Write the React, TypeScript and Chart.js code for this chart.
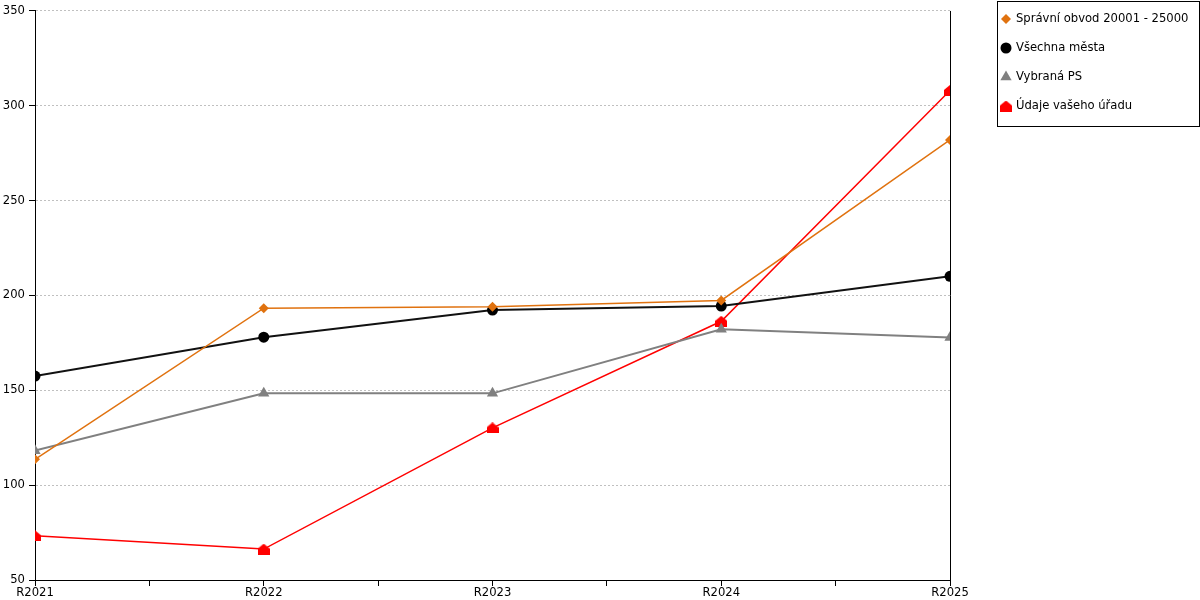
import React, { useEffect, useRef } from "react";
import { Chart, registerables } from "chart.js";

Chart.register(...registerables);

const categories = ["R2021", "R2022", "R2023", "R2024", "R2025"];
const seriesLabels = [
  "Správní obvod 20001 - 25000",
  "Všechna města",
  "Vybraná PS",
  "Údaje vašeho úřadu",
];
const spravniObvod = [113.6, 193.3, 194.0, 197.4, 282.0];
const vsechnaMesta = [157.5, 178.0, 192.3, 194.4, 210.1];
const vybranaPS = [118.2, 148.4, 148.4, 182.2, 177.8];
const udajeUradu = [73.3, 66.3, 130.2, 186.4, 308.1];
const yTicks = [50, 100, 150, 200, 250, 300, 350];

const FONT = "'DejaVu Sans', Verdana, sans-serif";
const FONT_SIZE = 11.6;

function makeHouse(color: string): HTMLCanvasElement {
  const c = document.createElement("canvas");
  c.width = 12;
  c.height = 11;
  const g = c.getContext("2d")!;
  g.fillStyle = color;
  g.beginPath();
  g.moveTo(0, 5);
  g.lineTo(6, 0);
  g.lineTo(12, 5);
  g.lineTo(12, 11);
  g.lineTo(0, 11);
  g.closePath();
  g.fill();
  return c;
}

function drawMarker(ctx: CanvasRenderingContext2D, style: any, r: number, x: number, y: number, color: string) {
  ctx.save();
  ctx.fillStyle = color;
  ctx.beginPath();
  if (style instanceof HTMLCanvasElement) {
    ctx.drawImage(style, x - style.width / 2, y - style.height / 2);
    ctx.restore();
    return;
  }
  if (style === "rectRot") {
    ctx.moveTo(x, y - r);
    ctx.lineTo(x + r, y);
    ctx.lineTo(x, y + r);
    ctx.lineTo(x - r, y);
  } else if (style === "circle") {
    ctx.arc(x, y, r, 0, Math.PI * 2);
  } else if (style === "triangle") {
    const w = r * Math.sqrt(3) / 2;
    ctx.moveTo(x, y - r);
    ctx.lineTo(x + w, y + r / 2);
    ctx.lineTo(x - w, y + r / 2);
  }
  ctx.closePath();
  ctx.fill();
  ctx.restore();
}

const frameAndLegend = {
  id: "frameAndLegend",
  afterDraw(chart: any) {
    const { ctx, chartArea } = chart;
    ctx.save();
    ctx.strokeStyle = "#000";
    ctx.lineWidth = 1;
    ctx.beginPath();
    ctx.moveTo(Math.round(chartArea.right) + 0.5, chartArea.top);
    ctx.lineTo(Math.round(chartArea.right) + 0.5, chartArea.bottom);
    ctx.stroke();

    const left = Math.round(chartArea.right) + 47;
    const top = 1;
    const width = chart.width - left - 1;
    const itemGap = 29;
    const height = 125;
    ctx.strokeRect(left + 0.5, top + 0.5, width, height);
    ctx.font = `${FONT_SIZE}px ${FONT}`;
    ctx.textBaseline = "middle";
    ctx.textAlign = "left";
    chart.data.datasets.forEach((ds: any, i: number) => {
      const cy = top + 18 + i * itemGap;
      drawMarker(ctx, ds.pointStyle, ds.pointRadius, left + 9, cy, ds.pointBackgroundColor);
      ctx.fillStyle = "#000";
      ctx.fillText(ds.label, left + 19, cy);
    });
    ctx.restore();
  },
};

export default function App() {
  const ref = useRef<HTMLCanvasElement | null>(null);

  useEffect(() => {
    if (!ref.current) return;
    const toPts = (vals: number[]) => vals.map((v, i) => ({ x: i, y: v }));
    const house = makeHouse("#FF0000");
    const chart = new Chart(ref.current, {
      type: "line",
      data: {
        datasets: [
          {
            label: seriesLabels[0],
            data: toPts(spravniObvod),
            borderColor: "#E0720F",
            backgroundColor: "#E0720F",
            pointBackgroundColor: "#E0720F",
            pointBorderWidth: 0,
            borderWidth: 1.5,
            pointStyle: "rectRot",
            pointRadius: 5,
          },
          {
            label: seriesLabels[1],
            data: toPts(vsechnaMesta),
            borderColor: "#111111",
            backgroundColor: "#000000",
            pointBackgroundColor: "#000000",
            pointBorderWidth: 0,
            borderWidth: 2,
            pointStyle: "circle",
            pointRadius: 5.5,
          },
          {
            label: seriesLabels[2],
            data: toPts(vybranaPS),
            borderColor: "#808080",
            backgroundColor: "#808080",
            pointBackgroundColor: "#808080",
            pointBorderWidth: 0,
            borderWidth: 2,
            pointStyle: "triangle",
            pointRadius: 6.5,
          },
          {
            label: seriesLabels[3],
            data: toPts(udajeUradu),
            borderColor: "#FF0000",
            backgroundColor: "#FF0000",
            pointBackgroundColor: "#FF0000",
            pointBorderWidth: 0,
            borderWidth: 1.5,
            pointStyle: house as any,
            pointRadius: 6,
          },
        ] as any,
      },
      options: {
        animation: false,
        responsive: false,
        maintainAspectRatio: false,
        layout: { padding: { top: 10, right: 250, bottom: 0, left: 0 } },
        plugins: {
          legend: { display: false },
          tooltip: { enabled: false },
        },
        elements: { line: { tension: 0 } },
        scales: {
          x: {
            type: "linear",
            min: 0,
            max: categories.length - 1,
            afterBuildTicks: (scale: any) => {
              const t: any[] = [];
              for (let i = 0; i < categories.length; i++) {
                t.push({ value: i });
                if (i < categories.length - 1) t.push({ value: i + 0.5 });
              }
              scale.ticks = t;
            },
            afterFit: (scale: any) => {
              scale.height = 20;
            },
            ticks: {
              autoSkip: false,
              maxRotation: 0,
              padding: 0,
              color: "#000",
              font: { family: FONT, size: FONT_SIZE },
              callback: (v: any) => (Number.isInteger(v) ? categories[v] : ""),
            },
            grid: {
              drawOnChartArea: false,
              drawTicks: true,
              tickLength: 6,
              tickColor: "#000",
              tickWidth: 1,
            },
            border: { display: true, color: "#000", width: 1 },
          },
          y: {
            min: 50,
            max: 350,
            afterBuildTicks: (scale: any) => {
              scale.ticks = yTicks.map((v) => ({ value: v }));
            },
            afterFit: (scale: any) => {
              scale.width = 35;
            },
            ticks: {
              padding: 4,
              color: "#000",
              font: { family: FONT, size: FONT_SIZE },
            },
            grid: {
              color: "#C0C0C0",
              lineWidth: 1,
              drawTicks: true,
              tickLength: 6,
              tickColor: "#000",
              tickWidth: 1,
              tickBorderDash: [],
            },
            border: { display: true, color: "#000", width: 1, dash: [2, 2] },
          },
        },
      },
      plugins: [frameAndLegend],
    } as any);
    return () => chart.destroy();
  }, []);

  return (
    <div style={{ position: "fixed", left: 0, top: 0, width: 1200, height: 600, background: "#fff" }}>
      <canvas ref={ref} width={1200} height={600} style={{ width: 1200, height: 600, display: "block" }} />
    </div>
  );
}
